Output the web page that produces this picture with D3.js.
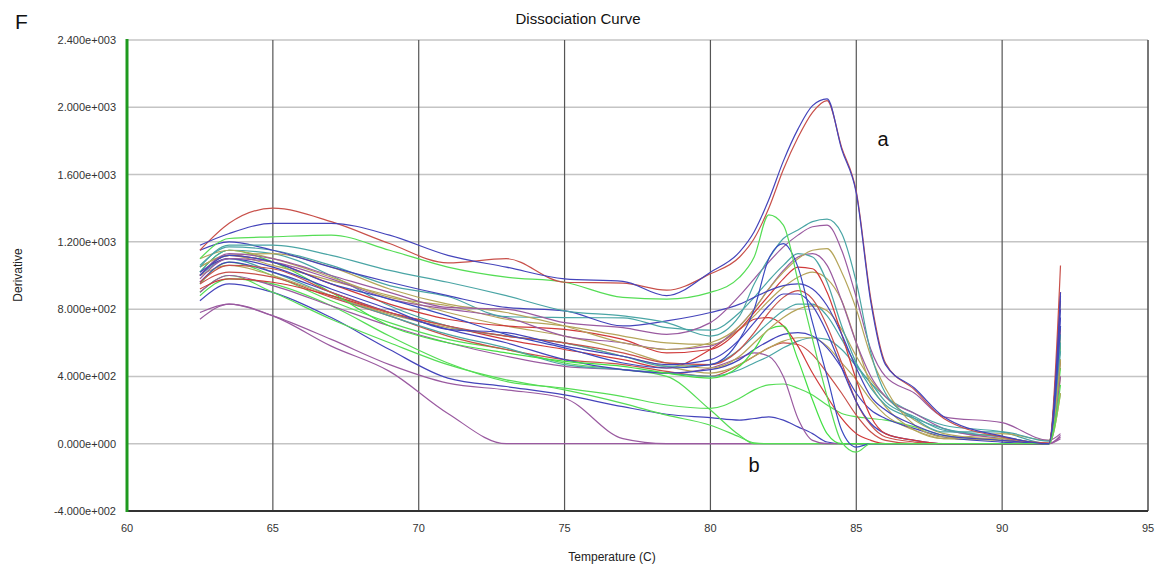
<!DOCTYPE html>
<html>
<head>
<meta charset="utf-8">
<script src="https://cdnjs.cloudflare.com/ajax/libs/d3/7.8.5/d3.min.js"></script>
<style>
  body { margin: 0; background: #ffffff; }
  svg { font-family: Arial, "Liberation Sans", sans-serif; }
</style>
</head>
<body>
<svg id="chart" width="1157" height="569"></svg>
<script>
// temperatures (C) shared by every melt curve
var temps = [62.5, 63.5, 65, 67, 69, 71, 73, 75, 77, 78.5, 80, 81, 81.5, 82, 82.5, 83, 83.5, 84, 84.5, 85, 85.5, 86, 87, 88, 90, 91.6, 92];

var xTicks = [60, 65, 70, 75, 80, 85, 90, 95];
var yTicks = [-400, 0, 400, 800, 1200, 1600, 2000, 2400];

// derivative values, one array per well
var aRed    = [1150, 1310, 1400, 1320, 1190, 1075, 1100, 960, 955, 913, 1010, 1110, 1220, 1400, 1630, 1820, 1970, 2040, 1760, 1500, 860, 480, 320, 150, 40, 5, 1060];
var aBlue   = [1180, 1250, 1310, 1310, 1240, 1120, 1050, 980, 965, 880, 1020, 1140, 1260, 1450, 1680, 1870, 2010, 2050, 1750, 1490, 840, 470, 330, 160, 45, 0, 880];
var greenHi = [1100, 1220, 1230, 1240, 1150, 1050, 990, 960, 870, 860, 900, 990, 1110, 1360, 1300, 970, 620, 280, 10, -50, 0, 0, 0, 0, 0, 0, 350];
var blueSpk = [1000, 1120, 1080, 950, 860, 760, 650, 570, 480, 450, 470, 620, 800, 1100, 1190, 1050, 720, 400, 80, -20, 0, 0, 0, 0, 0, 0, 700];
var tealHi  = [1050, 1180, 1180, 1120, 1030, 960, 880, 790, 760, 720, 640, 760, 950, 1100, 1220, 1270, 1320, 1335, 1250, 960, 540, 300, 150, 70, 70, 15, 650];
var purpHi  = [1000, 1130, 1100, 1000, 900, 810, 800, 720, 690, 650, 720, 880, 980, 1080, 1170, 1240, 1290, 1300, 1150, 870, 560, 400, 300, 160, 125, 20, 60];
var oliveA  = [1050, 1120, 1130, 1050, 920, 830, 780, 700, 600, 560, 600, 700, 800, 920, 1020, 1100, 1150, 1160, 1020, 800, 520, 330, 110, 40, 30, 0, 500];
var tealB   = [1060, 1170, 1150, 1060, 940, 875, 755, 750, 748, 690, 675, 780, 870, 970, 1060, 1130, 1110, 960, 700, 480, 330, 230, 150, 90, 40, 0, 600];
var purpC   = [980, 1100, 1080, 980, 860, 800, 750, 640, 600, 560, 580, 700, 800, 920, 1030, 1110, 1130, 1060, 850, 600, 400, 280, 180, 90, 30, 0, 400];
var redD    = [1000, 1120, 1080, 950, 830, 740, 700, 680, 620, 540, 560, 680, 780, 880, 980, 1050, 1040, 900, 650, 380, 160, 60, 20, 0, 0, 0, 900];
var oliveE  = [1100, 1150, 1100, 990, 870, 820, 740, 700, 640, 600, 590, 680, 760, 850, 930, 990, 1020, 980, 850, 600, 350, 220, 80, 30, 60, 20, 400];
var blueF   = [1020, 1100, 1050, 920, 800, 680, 660, 580, 520, 470, 500, 620, 720, 820, 890, 890, 820, 660, 450, 250, 120, 60, 20, 0, 0, 0, 800];
var redG    = [960, 1060, 1040, 900, 780, 700, 640, 600, 540, 480, 470, 560, 660, 780, 870, 910, 860, 700, 480, 250, 110, 40, 10, 0, 0, 0, 650];
var oliveH  = [1050, 1120, 1060, 970, 880, 780, 700, 640, 560, 480, 450, 520, 600, 680, 750, 800, 820, 790, 680, 520, 380, 280, 140, 60, 20, 0, 300];
var tealI   = [1020, 1150, 1130, 1000, 820, 700, 640, 600, 520, 460, 470, 560, 640, 720, 790, 830, 830, 760, 620, 470, 360, 280, 180, 110, 70, 0, 550];
var redJ    = [920, 980, 960, 880, 780, 700, 620, 560, 500, 450, 560, 680, 740, 750, 700, 580, 420, 280, 150, 60, 20, 0, 0, 0, 0, 0, 700];
var blueK   = [960, 1080, 1020, 900, 780, 680, 600, 500, 440, 420, 440, 500, 560, 610, 650, 660, 640, 570, 450, 300, 200, 150, 90, 40, 10, 0, 750];
var redL    = [950, 1020, 990, 870, 760, 640, 560, 500, 470, 430, 400, 470, 520, 570, 600, 590, 530, 420, 300, 170, 70, 20, 0, 0, 0, 0, 500];
var tealM   = [1000, 1100, 1020, 880, 760, 650, 570, 470, 440, 420, 400, 440, 480, 520, 570, 610, 630, 620, 560, 460, 360, 250, 160, 80, 40, 0, 850];
var purpN   = [900, 1000, 940, 820, 700, 600, 520, 460, 440, 420, 450, 510, 540, 520, 400, 150, 20, 0, 0, 0, 0, 0, 0, 0, 0, 0, 50];
var oliveO  = [1000, 1060, 1000, 880, 770, 690, 640, 600, 520, 460, 420, 470, 520, 570, 610, 630, 630, 580, 480, 380, 260, 170, 80, 30, 20, 0, 600];
var greenP  = [1020, 1150, 1080, 900, 700, 600, 540, 490, 460, 420, 390, 460, 560, 680, 700, 500, 260, 60, 0, 0, 0, 0, 0, 0, 0, 0, 600];
var blueB2  = [1150, 1200, 1150, 1050, 960, 880, 810, 790, 700, 730, 780, 830, 870, 910, 940, 950, 920, 820, 650, 450, 280, 200, 110, 50, 20, 0, 900];
var purpP0  = [740, 830, 760, 580, 430, 180, 0, 0, 0, 0, 0, 0, 0, 0, 0, 0, 0, 0, 0, 0, 0, 0, 0, 0, 0, 0, 40];
var purpP1  = [780, 830, 760, 620, 470, 360, 320, 270, 30, 0, 0, 0, 0, 0, 0, 0, 0, 0, 0, 0, 0, 0, 0, 0, 0, 0, 30];
var blueLow = [850, 950, 900, 750, 560, 390, 340, 290, 220, 175, 155, 140, 150, 160, 140, 100, 60, 10, 0, 0, 0, 0, 0, 0, 0, 0, 600];
var greenDr = [950, 1080, 1000, 850, 720, 620, 560, 480, 440, 400, 200, 50, 0, 0, 0, 0, 0, 0, 0, 0, 0, 0, 0, 0, 0, 0, 450];
var greenB  = [900, 1000, 900, 740, 600, 470, 380, 320, 240, 170, 110, 40, 5, 0, 0, 0, 0, 0, 0, 0, 0, 0, 0, 0, 0, 0, 300];
var greenM  = [880, 980, 950, 820, 640, 480, 370, 330, 280, 230, 210, 270, 320, 350, 355, 330, 290, 230, 180, 160, 150, 140, 100, 50, 20, 0, 500];

var seriesList = [
  [purpP0, "#9a5aa0"], [purpP1, "#9a5aa0"], [blueLow, "#4444bb"], [greenDr, "#55dd55"],
  [greenB, "#55dd55"], [greenM, "#55dd55"], [purpN, "#9a5aa0"], [redL, "#c8504a"],
  [tealM, "#4aa5a5"], [oliveO, "#b5a55a"], [blueK, "#4444bb"], [redJ, "#d03a3a"],
  [greenP, "#44e044"], [tealI, "#4aa5a5"], [oliveH, "#b5a55a"], [redG, "#c8504a"],
  [blueF, "#4444bb"], [oliveE, "#b5a55a"], [redD, "#d03a3a"], [purpC, "#9a5aa0"],
  [tealB, "#4aa5a5"], [oliveA, "#b5a55a"], [blueB2, "#4444bb"], [purpHi, "#9a5aa0"],
  [tealHi, "#4aa5a5"], [blueSpk, "#3a4ac0"], [greenHi, "#55dd55"], [aRed, "#c8504a"],
  [aBlue, "#4444bb"]
];

var svg = d3.select("#chart");

var x = d3.scaleLinear().domain([60, 95]).range([127, 1148]);
var y = d3.scaleLinear().domain([-400, 2400]).range([511, 40]);

function sciLabel(v) {
  var s = v.toExponential(3);
  var parts = s.split("e");
  var sign = parts[1].charAt(0);
  var exp = parts[1].slice(1);
  while (exp.length < 3) exp = "0" + exp;
  return parts[0] + "e" + sign + exp;
}

// horizontal grid
svg.append("g")
  .selectAll("line")
  .data(yTicks.filter(function(d) { return d > -400; }))
  .enter().append("line")
  .attr("x1", x(60)).attr("x2", x(95))
  .attr("y1", function(d) { return y(d); })
  .attr("y2", function(d) { return y(d); })
  .attr("stroke", "#c4c4c4")
  .attr("stroke-width", 1.5);

// vertical grid
svg.append("g")
  .selectAll("line")
  .data(xTicks.filter(function(d) { return d > 60; }))
  .enter().append("line")
  .attr("x1", function(d) { return x(d); })
  .attr("x2", function(d) { return x(d); })
  .attr("y1", y(2400)).attr("y2", y(-400))
  .attr("stroke", "#555555")
  .attr("stroke-width", function(d) { return d == 95 ? 1.6 : 1.2; });

// bottom frame
svg.append("line")
  .attr("x1", x(60)).attr("x2", x(95))
  .attr("y1", y(-400)).attr("y2", y(-400))
  .attr("stroke", "#333333")
  .attr("stroke-width", 2);

var line = d3.line()
  .x(function(d) { return x(d[0]); })
  .y(function(d) { return y(d[1]); })
  .curve(d3.curveMonotoneX);

svg.append("g")
  .selectAll("path")
  .data(seriesList)
  .enter().append("path")
  .attr("d", function(s) {
    return line(temps.map(function(t, i) { return [t, s[0][i]]; }));
  })
  .attr("fill", "none")
  .attr("stroke", function(s) { return s[1]; })
  .attr("stroke-width", 1.2)
  .attr("stroke-linejoin", "round");

// green left axis
svg.append("line")
  .attr("x1", x(60)).attr("x2", x(60))
  .attr("y1", y(2400) - 1).attr("y2", y(-400) + 1)
  .attr("stroke", "#1e9a1e")
  .attr("stroke-width", 3);

svg.append("g")
  .selectAll("text")
  .data(yTicks)
  .enter().append("text")
  .attr("x", 116)
  .attr("y", function(d) { return y(d) + 4; })
  .attr("text-anchor", "end")
  .attr("font-size", "11px")
  .attr("fill", "#333333")
  .text(sciLabel);

svg.append("g")
  .selectAll("text")
  .data(xTicks)
  .enter().append("text")
  .attr("x", function(d) { return x(d); })
  .attr("y", 532)
  .attr("text-anchor", "middle")
  .attr("font-size", "11px")
  .attr("fill", "#333333")
  .text(function(d) { return d; });

svg.append("text")
  .attr("x", 578).attr("y", 24)
  .attr("text-anchor", "middle")
  .attr("font-size", "15px")
  .attr("fill", "#111111")
  .text("Dissociation Curve");

svg.append("text")
  .attr("x", 612).attr("y", 561)
  .attr("text-anchor", "middle")
  .attr("font-size", "12px")
  .attr("fill", "#222222")
  .text("Temperature (C)");

svg.append("text")
  .attr("transform", "translate(22,275)rotate(-90)")
  .attr("text-anchor", "middle")
  .attr("font-size", "12px")
  .attr("fill", "#222222")
  .text("Derivative");

svg.append("text")
  .attr("x", 15).attr("y", 29)
  .attr("font-size", "21px")
  .attr("fill", "#111111")
  .text("F");

svg.append("text")
  .attr("x", 883).attr("y", 146)
  .attr("text-anchor", "middle")
  .attr("font-size", "20px")
  .attr("fill", "#111111")
  .text("a");

svg.append("text")
  .attr("x", 754).attr("y", 472)
  .attr("text-anchor", "middle")
  .attr("font-size", "20px")
  .attr("fill", "#111111")
  .text("b");
</script>
</body>
</html>
